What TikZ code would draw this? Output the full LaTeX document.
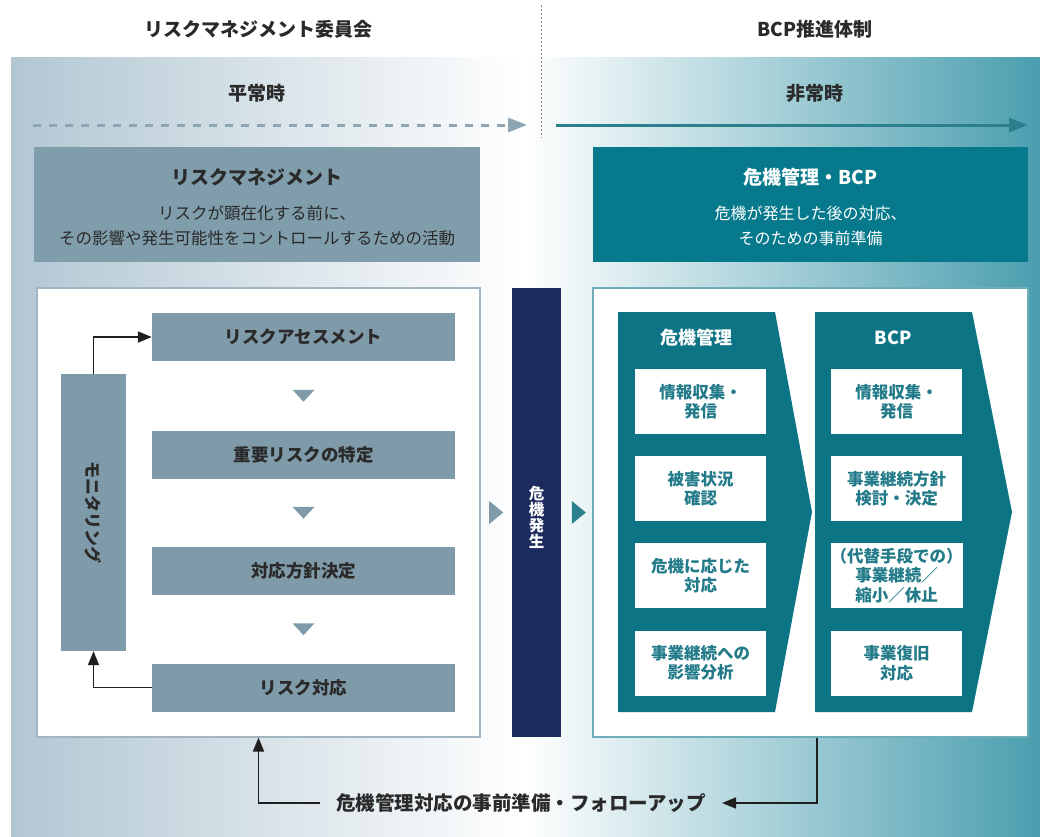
\documentclass[tikz,border=0pt]{standalone}
\usepackage{fontspec}
\setmainfont{Noto Sans CJK JP}
\usetikzlibrary{arrows.meta,calc}
\definecolor{bgL}{HTML}{B2C7D3}
\definecolor{bgR}{HTML}{4A9EAF}
\definecolor{cGrey}{HTML}{7F9BA9}
\definecolor{cGreyTop}{HTML}{809DAB}
\definecolor{cChev}{HTML}{0C7485}
\definecolor{cTopTeal}{HTML}{067A8C}
\definecolor{cNavy}{HTML}{1B2B5E}
\definecolor{cTxt}{HTML}{2A2A2A}
\definecolor{cTealTxt}{HTML}{237B89}
\definecolor{cDash}{HTML}{8EA5B3}
\definecolor{cArrow}{HTML}{2C7F8D}
\definecolor{cBorderL}{HTML}{A3B5C0}
\definecolor{cBorderR}{HTML}{6FAEB9}
\newcommand\fsz[2]{\fontsize{#1}{#2}\selectfont}
\tikzset{
  hdr/.style={font=\fsz{19}{23}\bfseries, text=cTxt, inner sep=0},
  panel/.style={fill=white, line width=1.2pt, inner sep=0, minimum height=449pt},
  topbox/.style={inner sep=0, minimum height=115pt},
  stepbox/.style={fill=cGrey, minimum width=303pt, minimum height=48pt, inner sep=0,
    font=\fsz{17.5}{21}\bfseries, text=cTxt},
  cbox/.style={fill=white, minimum width=131pt, minimum height=65pt, inner sep=0,
    align=center, font=\fsz{16.5}{19.5}\bfseries, text=cTealTxt},
  chevtitle/.style={font=\fsz{18}{22}\bfseries, text=white, inner sep=0},
  downtri/.style={fill=cGrey},
  blk/.style={draw=black!88, line width=1.8pt, -{Triangle[length=14pt,width=11pt]}},
  blkb/.style={draw=black!88, line width=1.8pt, -{Triangle[length=14pt,width=11pt]}},
}
\begin{document}
\begin{tikzpicture}[x=1pt,y=-1pt]
\useasboundingbox (0,0) rectangle (1040,836);
% background gradient
\shade[left color=bgL, right color=bgR, middle color=white] (11,57) rectangle (1040,836);

% headers
\node[hdr] (h1) at (258,29) {リスクマネジメント委員会};
\node[hdr] (h2) at (815,29) {BCP推進体制};
\node[hdr] (p1) at (257,93) {平常時};
\node[hdr] (p2) at (815,93) {非常時};
\coordinate (vd1) at (541,5);
\coordinate (vd2) at (541,138);
\draw[black!45, line width=1pt, dash pattern=on 2pt off 2pt] (vd1) -- (vd2);
\coordinate (da1) at (33,125);
\coordinate (da2) at (527,125);
\coordinate (sa1) at (556,125);
\coordinate (sa2) at (1028,125);
\draw[cDash, line width=3pt, dash pattern=on 8pt off 8pt, -{Triangle[length=19pt,width=14pt]}] (da1) -- (da2);
\draw[cArrow, line width=3pt, -{Triangle[length=19pt,width=14pt]}] (sa1) -- (sa2);

% top boxes
\node[topbox, fill=cGreyTop, minimum width=446pt] (lb) at (257,204.5) {};
\node[font=\fsz{19}{23}\bfseries, text=cTxt, inner sep=0] (lbt) at (257,177) {リスクマネジメント};
\node[font=\fsz{16.5}{25}, text=cTxt, align=center, inner sep=0] (lbs) at (257,226)
  {リスクが顕在化する前に、\\その影響や発生可能性をコントロールするための活動};
\node[topbox, fill=cTopTeal, minimum width=435pt] (rb) at (810.5,204.5) {};
\node[font=\fsz{19}{23}\bfseries, text=white, inner sep=0] (rbt) at (810.5,177) {危機管理・BCP};
\node[font=\fsz{16}{25}, text=white, align=center, inner sep=0] (rbs) at (810.5,226)
  {危機が発生した後の対応、\\そのための事前準備};

% panels
\node[panel, draw=cBorderL, minimum width=443pt] (lp) at (258.5,512.5) {};
\node[panel, draw=cBorderR, minimum width=435pt] (rp) at (810.5,512.5) {};

% left steps
\node[stepbox] (s1) at (303.5,337) {リスクアセスメント};
\node[stepbox] (s2) at (303.5,454.5) {重要リスクの特定};
\node[stepbox] (s3) at (303.5,571) {対応方針決定};
\node[stepbox] (s4) at (303.5,687.5) {リスク対応};
\foreach \a/\b in {s1/s2,s2/s3,s3/s4}{
  \fill[downtri] ($(\a.south)!0.5!(\b.north)$) ++(-11,-6) -- ++(22,0) -- ++(-11,12) -- cycle;
}
\node[fill=cGrey, minimum width=65pt, minimum height=277pt, inner sep=0] (mon) at (93.5,512.5) {};
\node[rotate=-90, font=\fsz{17}{20}\bfseries, text=cTxt, inner sep=0] (mont) at (mon.center) {モニタリング};
\draw[blk] (mon.north) |- (s1.west);
\draw[blk] (s4.west) -| (mon.south);

% middle
\node[fill=cNavy, minimum width=49pt, minimum height=449pt, inner sep=0] (nav) at (536.5,512.5) {};
\node[align=center, font=\fsz{15.5}{16}\bfseries, text=white, inner sep=0] (navt) at (536.5,517) {危\\機\\発\\生};
\fill[cGrey] ($(lp.east)!0.5!(nav.west)$) ++(-7,-11.5) -- ++(14,11.5) -- ++(-14,11.5) -- cycle;
\fill[cArrow] ($(nav.east)!0.5!(rp.west)$) ++(-5,-11.5) -- ++(14,11.5) -- ++(-14,11.5) -- cycle;

% chevrons
\fill[cChev] (618,312) -- (775,312) -- (812,512) -- (775,712) -- (618,712) -- cycle;
\fill[cChev] (815,312) -- (972,312) -- (1012,512) -- (972,712) -- (815,712) -- cycle;
\node[chevtitle] (c1t) at (696.5,338) {危機管理};
\node[chevtitle] (c2t) at (893,338) {BCP};
\node[cbox] (a1) at (700.5,401.5) {情報収集・\\発信};
\node[cbox] (a2) at (700.5,488.5) {被害状況\\確認};
\node[cbox] (a3) at (700.5,575.5) {危機に応じた\\対応};
\node[cbox] (a4) at (700.5,663) {事業継続への\\影響分析};
\node[cbox] (b1) at (896.5,401.5) {情報収集・\\発信};
\node[cbox] (b2) at (896.5,488.5) {事業継続方針\\検討・決定};
\node[cbox] (b3) at (896.5,575.5) {（代替手段での）\\事業継続／\\縮小／休止};
\node[cbox] (b4) at (896.5,663) {事業復旧\\対応};

% bottom feedback
\node[font=\fsz{19.5}{23}\bfseries, text=cTxt, inner ysep=0, inner xsep=16pt] (fb) at (521,803)
  {危機管理対応の事前準備・フォローアップ};
\draw[blkb] ([xshift=6.5pt]rp.south) |- (fb.east);
\draw[blkb] (fb.west) -| (lp.south);
\end{tikzpicture}
\end{document}
